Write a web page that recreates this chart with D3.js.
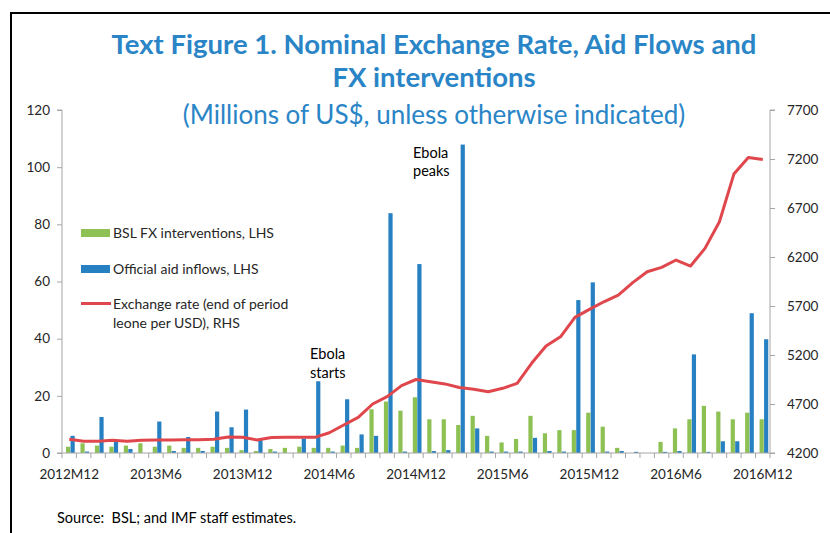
<!DOCTYPE html>
<html lang="en">
<head>
	<meta charset="UTF-8">
	<title>Exchange Rate, Aid Flows and FX interventions</title>
	<script src="https://cdn.jsdelivr.net/npm/d3@7"></script>
	<style>
		body { margin: 0; background: #fff; }
		text { font-family: Lato, "Open Sans", sans-serif; }
	</style>
</head>
<body>
	<svg id="svg"></svg>
	<script>
		// monthly categories, 2012M12 .. 2016M12
		var months = ["2012M12",
			"2013M1","2013M2","2013M3","2013M4","2013M5","2013M6","2013M7","2013M8","2013M9","2013M10","2013M11","2013M12",
			"2014M1","2014M2","2014M3","2014M4","2014M5","2014M6","2014M7","2014M8","2014M9","2014M10","2014M11","2014M12",
			"2015M1","2015M2","2015M3","2015M4","2015M5","2015M6","2015M7","2015M8","2015M9","2015M10","2015M11","2015M12",
			"2016M1","2016M2","2016M3","2016M4","2016M5","2016M6","2016M7","2016M8","2016M9","2016M10","2016M11","2016M12"];

		// BSL FX interventions, LHS (millions US$)
		var fxInterventions = [2.2,3.4,2.6,2.2,2.6,3.4,2.2,2.6,1.8,1.8,2.2,1.8,1.0,
			0.7,1.4,1.8,2.2,1.8,1.8,2.6,1.8,15.3,18.0,14.8,19.5,
			11.8,11.8,9.8,13.0,6.0,3.7,4.9,13.0,6.9,8.0,8.0,14.1,
			9.2,1.8,0,0,3.9,8.6,11.8,16.5,14.5,11.8,14.1,11.8];

		// Official aid inflows, LHS (millions US$)
		var aidInflows = [6.0,0.5,12.6,4.2,1.4,0,11.0,0.7,5.6,0.7,14.5,9.0,15.2,
			4.5,0.5,0,5.1,25.1,0.5,18.8,6.5,6.0,83.9,0.5,66.1,
			0.7,1.0,107.9,8.6,0.5,0.5,0.5,5.3,0.7,0.5,53.5,59.7,
			0.5,0.7,0.4,0,0.4,0.7,34.5,0.4,4.1,4.1,48.9,39.8];

		// Exchange rate, end of period leone per USD, RHS
		var exchangeRate = [4340,4320,4320,4330,4320,4330,4333,4333,4335,4335,4340,4363,4360,
			4333,4358,4360,4360,4360,4407,4486,4564,4700,4775,4887,4950,
			4927,4905,4868,4850,4825,4860,4911,5115,5291,5386,5584,5666,
			5743,5812,5938,6050,6094,6169,6108,6288,6560,7046,7216,7196];

		var leftTicks = [0,20,40,60,80,100,120];
		var rightTicks = [4200,4700,5200,5700,6200,6700,7200,7700];
		var labelEvery = 6;

		window.onload = function() {
			var w = 830, h = 533,
				svg = d3.select("#svg").attr("width", w).attr("height", h),
				green = "#8DC153", blue = "#2680C2", red = "#E0474C",
				titleBlue = "#2A85C7", axisGrey = "#A6A6A6", txt = "#262626";

			var x = d3.scaleBand()
				.domain(d3.range(months.length))
				.range([62, 770]);
			var yL = d3.scaleLinear().domain([0, 120]).range([453, 110]);
			var yR = d3.scaleLinear().domain([4200, 7700]).range([453, 110]);
			var bw = 4.2;

			// frame
			svg.append("path")
				.attr("d", "M11," + h + "V13H" + w)
				.attr("fill", "none").attr("stroke", "#000").attr("stroke-width", 2);

			// titles
			svg.append("text").attr("x", 434).attr("y", 54)
				.attr("text-anchor", "middle").attr("fill", titleBlue)
				.style("font-weight", "bold").style("font-size", "27.5px")
				.text("Text Figure 1. Nominal Exchange Rate, Aid Flows and");
			svg.append("text").attr("x", 434).attr("y", 87)
				.attr("text-anchor", "middle").attr("fill", titleBlue)
				.style("font-weight", "bold").style("font-size", "27.5px")
				.text("FX interventions");
			svg.append("text").attr("x", 434).attr("y", 124)
				.attr("text-anchor", "middle").attr("fill", titleBlue)
				.style("font-size", "26px")
				.text("(Millions of US$, unless otherwise indicated)");

			// bars
			svg.append("g").selectAll("rect.fx")
				.data(fxInterventions).enter().append("rect")
				.attr("class", "fx")
				.attr("x", function(d, i) { return x(i) + x.bandwidth()/2 - bw + 1; })
				.attr("width", bw)
				.attr("y", function(d) { return yL(d); })
				.attr("height", function(d) { return yL(0) - yL(d); })
				.attr("fill", green);

			svg.append("g").selectAll("rect.aid")
				.data(aidInflows).enter().append("rect")
				.attr("class", "aid")
				.attr("x", function(d, i) { return x(i) + x.bandwidth()/2 + 1.3; })
				.attr("width", bw)
				.attr("y", function(d) { return yL(d); })
				.attr("height", function(d) { return yL(0) - yL(d); })
				.attr("fill", blue);

			// axes
			var bottom = svg.append("g").attr("transform", "translate(0,453)");
			bottom.append("line").attr("x1", 62).attr("x2", 770)
				.attr("stroke", axisGrey);
			bottom.selectAll("line.tk")
				.data(d3.range(months.length + 1)).enter().append("line")
				.attr("class", "tk")
				.attr("x1", function(i) { return 62 + i * x.step(); })
				.attr("x2", function(i) { return 62 + i * x.step(); })
				.attr("y1", 0).attr("y2", 5)
				.attr("stroke", axisGrey);
			bottom.selectAll("text")
				.data(months.filter(function(m, i) { return i % labelEvery == 0; }))
				.enter().append("text")
				.attr("x", function(m) { return x(months.indexOf(m)) + x.bandwidth()/2; })
				.attr("y", 26)
				.attr("text-anchor", "middle").attr("fill", txt)
				.style("font-size", "13.5px")
				.text(function(m) { return m; });

			var left = svg.append("g").attr("transform", "translate(62,0)")
				.call(d3.axisLeft(yL).tickValues(leftTicks).tickSize(5).tickPadding(7));
			var right = svg.append("g").attr("transform", "translate(770,0)")
				.call(d3.axisRight(yR).tickValues(rightTicks).tickFormat(d3.format("d"))
					.tickSize(5).tickPadding(12));
			[left, right].forEach(function(a) {
				a.select(".domain").attr("stroke", axisGrey).attr("d", a === left ?
					"M-5,110H0V453H-5" : "M5,110H0V453H5");
				a.selectAll(".tick line").attr("stroke", axisGrey);
				a.selectAll(".tick text").attr("fill", txt)
					.style("font-size", "13.5px").style("font-family", "Lato, sans-serif");
			});

			// exchange rate line
			var line = d3.line()
				.x(function(d, i) { return x(i) + x.bandwidth()/2; })
				.y(function(d) { return yR(d); });
			svg.append("path").datum(exchangeRate)
				.attr("d", line)
				.attr("fill", "none").attr("stroke", red)
				.attr("stroke-width", 3).attr("stroke-linejoin", "round");

			// legend
			var lg = svg.append("g").style("font-size", "14px");
			lg.append("rect").attr("x", 81).attr("y", 229).attr("width", 29).attr("height", 8).attr("fill", green);
			lg.append("text").attr("x", 113).attr("y", 238).attr("fill", txt).text("BSL FX interventions, LHS");
			lg.append("rect").attr("x", 81).attr("y", 265).attr("width", 29).attr("height", 8).attr("fill", blue);
			lg.append("text").attr("x", 113).attr("y", 274).attr("fill", txt).text("Official aid inflows, LHS");
			lg.append("line").attr("x1", 81).attr("x2", 111).attr("y1", 303.5).attr("y2", 303.5)
				.attr("stroke", red).attr("stroke-width", 3);
			lg.append("text").attr("x", 113).attr("y", 308.5).attr("fill", txt).text("Exchange rate (end of period");
			lg.append("text").attr("x", 113).attr("y", 328).attr("fill", txt).text("leone per USD), RHS");

			// annotations
			var an = svg.append("g").style("font-size", "14.5px").attr("fill", "#000");
			an.append("text").attr("x", 413).attr("y", 158).text("Ebola");
			an.append("text").attr("x", 413).attr("y", 176).text("peaks");
			an.append("text").attr("x", 310).attr("y", 359).text("Ebola");
			an.append("text").attr("x", 310).attr("y", 378).text("starts");

			// source
			svg.append("text").attr("x", 57).attr("y", 523)
				.attr("fill", "#000").style("font-size", "14.5px")
				.attr("xml:space", "preserve")
				.text("Source:  BSL; and IMF staff estimates.");
		}
	</script>
</body>
</html>
